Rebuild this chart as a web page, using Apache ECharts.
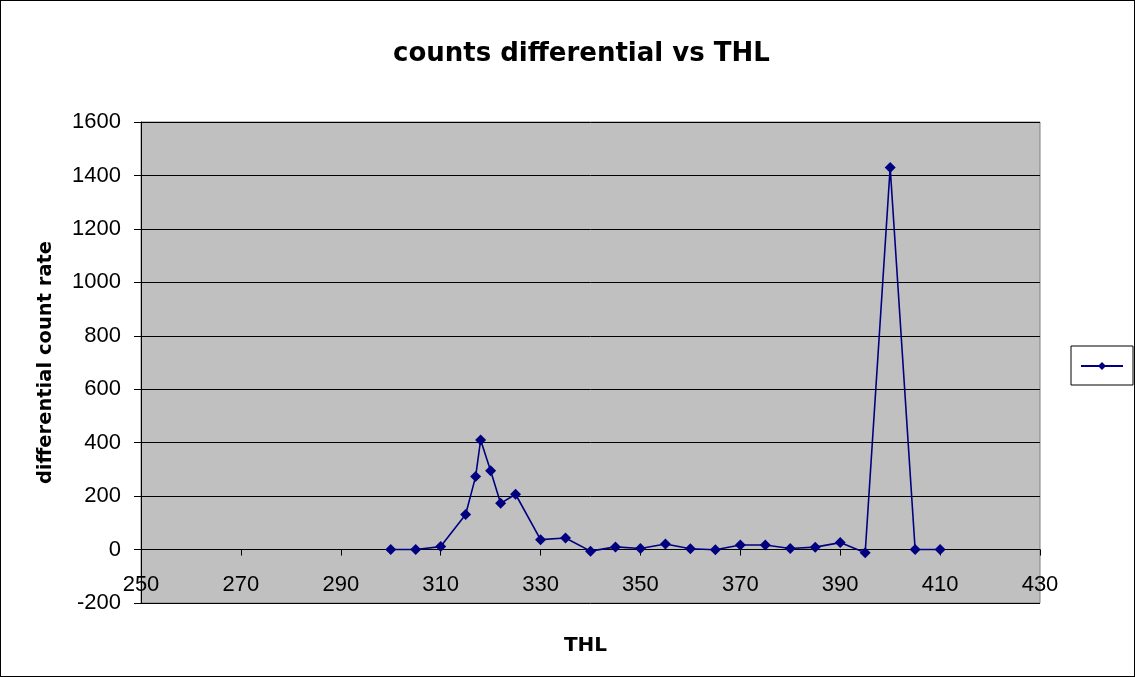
<!DOCTYPE html>
<html>
<head>
    <meta charset="utf-8" />
    <style>
        html, body {
            margin: 0;
            padding: 0;
            background-color: #fff;
        }
        #chart {
            width: 1133px;
            height: 675px;
            border: 1px solid #000;
        }
    </style>
    <script src="https://cdn.jsdelivr.net/npm/echarts@6/dist/echarts.min.js"></script>
</head>
<body>
    <div id="chart"></div>

    <script type="text/javascript">
        // THL 阈值
        var thl = [300, 305, 310, 315, 317, 318, 320, 322, 325, 330, 335, 340, 345, 350, 355,
                   360, 365, 370, 375, 380, 385, 390, 395, 400, 405, 410];
        // 微分计数率
        var rate = [0, 0, 11, 131, 273, 410, 295, 173, 207, 37, 43, -6, 10, 4, 21,
                    3, -1, 17, 17, 4, 9, 26, -12, 1430, 0, 0];

        var points = [];
        for (var i = 0; i < thl.length; i++) {
            points.push([thl[i], rate[i]]);
        }

        var fontName = '"Liberation Sans", Arial, sans-serif';
        var boldName = '"DejaVu Sans", Arial, sans-serif';

        var options = {
            backgroundColor: '#fff',
            animation: false,
            title: {
                text: 'counts differential vs THL',
                left: 387,
                top: 35,
                textStyle: {
                    fontFamily: boldName,
                    fontSize: 26,
                    fontWeight: 'bold',
                    color: '#000'
                }
            },
            legend: {
                right: 1,
                top: 345,
                orient: 'vertical',
                itemWidth: 42,
                itemHeight: 10,
                padding: [15, 9, 15, 9],
                itemGap: 0,
                borderColor: '#000',
                borderWidth: 1,
                formatter: function () { return ''; },
                textStyle: { fontSize: 1 },
                data: [' ']
            },
            grid: {
                left: 140,
                right: 94,
                top: 121,
                bottom: 73,
                outerBoundsMode: 'none',
                show: true,
                backgroundColor: '#c0c0c0',
                borderColor: '#808080',
                borderWidth: 1
            },
            xAxis: {
                type: 'value',
                min: 250,
                max: 430,
                interval: 20,
                name: 'THL',
                nameLocation: 'middle',
                nameGap: 33,
                nameTextStyle: {
                    fontFamily: boldName,
                    fontSize: 20,
                    fontWeight: 'bold',
                    color: '#000',
                    padding: [0, 10, 0, 0]
                },
                axisLine: { onZero: true, lineStyle: { color: '#000', width: 1 } },
                axisTick: { show: true, length: 6, inside: false, lineStyle: { color: '#000' } },
                axisLabel: {
                    margin: -29,
                    fontFamily: fontName,
                    fontSize: 22,
                    color: '#000'
                },
                splitLine: { show: false }
            },
            yAxis: {
                type: 'value',
                min: -200,
                max: 1600,
                interval: 200,
                name: 'differential count rate',
                nameLocation: 'middle',
                nameGap: 85,
                nameTextStyle: {
                    fontFamily: boldName,
                    fontSize: 19.5,
                    fontWeight: 'bold',
                    color: '#000'
                },
                axisLine: { show: true, lineStyle: { color: '#000', width: 1 } },
                axisTick: { show: true, length: 7, lineStyle: { color: '#000' } },
                axisLabel: {
                    margin: 20,
                    fontFamily: fontName,
                    fontSize: 22,
                    color: '#000',
                    formatter: function (v) { return String(v); }
                },
                splitLine: { show: true, lineStyle: { color: '#000', width: 1 } }
            },
            series: [{
                name: ' ',
                type: 'line',
                data: points,
                color: '#000080',
                symbol: 'diamond',
                symbolSize: 11,
                lineStyle: { width: 1.6, color: '#000080' },
                itemStyle: { color: '#000080' }
            }]
        };

        var myChart = echarts.init(document.getElementById('chart'));
        myChart.setOption(options);
    </script>
</body>
</html>
